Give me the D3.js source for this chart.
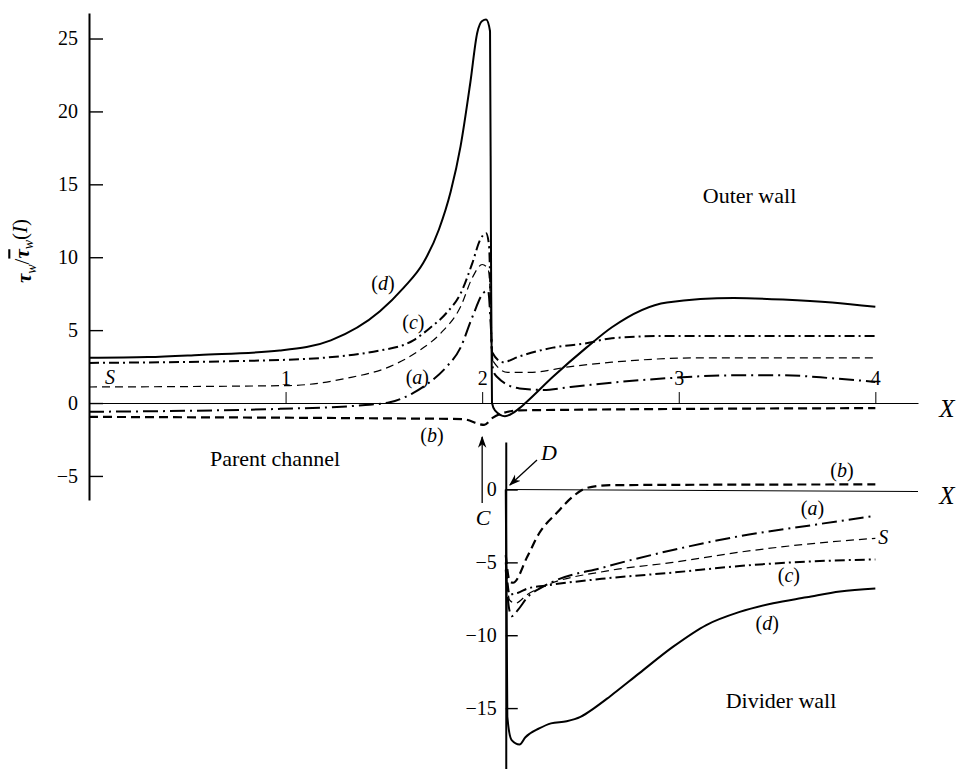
<!DOCTYPE html>
<html>
<head>
<meta charset="utf-8">
<script src="https://cdn.jsdelivr.net/npm/d3@7"></script>
<style>
  body { margin: 0; background: #fff; }
  svg { display: block; font-family: "Liberation Serif", "DejaVu Serif", serif; }
</style>
</head>
<body>
<svg id="chart" width="957" height="769"></svg>
<script>
// tick values
const xTicks = [1, 2, 3, 4];
const outerYTicks = [-5, 0, 5, 10, 15, 20, 25];
const dividerYTicks = [-15, -10, -5, 0];

// outer wall / parent channel, [X, tau_w / tau_w(I)]
const outerA = [[0, -0.6], [0.97, -0.4], [1.39, -0.15], [1.53, 0.05], [1.65, 0.7], [1.73, 1.4], [1.82, 2.5], [1.89, 3.8], [1.95, 5.9], [2.01, 7.6], [2.03, 7.7], [2.045, 5], [2.055, 2.3], [2.075, 1.8], [2.19, 1.0], [2.31, 0.9], [2.45, 1.1], [2.66, 1.4], [2.94, 1.7], [3.28, 1.9], [3.53, 1.9], [3.78, 1.7], [4.0, 1.45]];
const outerB = [[0, -0.95], [1.48, -1.05], [1.9, -1.1], [2.01, -1.5], [2.055, -1.0], [2.13, -0.6], [2.19, -0.5], [4.0, -0.35]];
const outerC = [[0, 2.75], [0.97, 2.95], [1.48, 3.6], [1.65, 4.3], [1.73, 5.1], [1.82, 6.2], [1.89, 7.5], [1.95, 9.6], [1.99, 11.2], [2.02, 11.65], [2.035, 10.8], [2.05, 3.5], [2.105, 2.8], [2.19, 3.2], [2.36, 3.8], [2.53, 4.1], [2.66, 4.45], [2.94, 4.6], [4.0, 4.6]];
const outerD = [[0, 3.1], [0.3, 3.15], [0.56, 3.3], [0.97, 3.6], [1.23, 4.3], [1.48, 6.3], [1.6, 7.9], [1.7, 9.6], [1.78, 11.9], [1.84, 14.5], [1.89, 17.6], [1.94, 22], [1.975, 25.4], [2.0, 26.2], [2.02, 26.3], [2.04, 25.5], [2.045, 10], [2.05, 0], [2.065, -0.5], [2.116, -0.9], [2.19, -0.35], [2.22, 0], [2.36, 1.8], [2.53, 3.8], [2.66, 5.2], [2.94, 6.9], [3.28, 7.2], [3.53, 7.1], [3.78, 6.9], [4.0, 6.6]];
const outerS = [[0, 1.1], [1.02, 1.2], [1.31, 1.7], [1.53, 2.5], [1.68, 3.6], [1.79, 4.8], [1.89, 6.6], [1.95, 8.6], [2.0, 9.5], [2.03, 9.2], [2.045, 6], [2.05, 3.0], [2.13, 2.1], [2.24, 2.1], [2.45, 2.5], [2.66, 2.8], [3.11, 3.1], [4.0, 3.1]];

// divider wall
const dividerA = [[2.12, -5.5], [2.135, -8.0], [2.15, -8.7], [2.18, -8.3], [2.23, -7.4], [2.32, -6.6], [2.63, -5.3], [2.97, -4.15], [3.31, -3.2], [3.65, -2.5], [4.0, -1.8]];
const dividerB = [[2.12, -4.5], [2.14, -6.3], [2.157, -6.4], [2.23, -4.6], [2.29, -3.0], [2.38, -1.6], [2.46, -0.5], [2.53, 0.1], [2.65, 0.3], [4.0, 0.35]];
const dividerC = [[2.12, -5.0], [2.14, -7.2], [2.18, -7.1], [2.23, -6.8], [2.32, -6.6], [2.63, -6.1], [2.97, -5.7], [3.31, -5.25], [3.65, -4.95], [4.0, -4.8]];
const dividerD = [[2.12, 0], [2.128, -15.6], [2.15, -17.2], [2.19, -17.5], [2.22, -17.0], [2.29, -16.4], [2.35, -16.05], [2.43, -15.9], [2.5, -15.6], [2.57, -15.0], [2.65, -14.2], [2.8, -12.6], [2.97, -10.8], [3.14, -9.3], [3.31, -8.4], [3.48, -7.8], [3.65, -7.4], [3.82, -7.0], [4.0, -6.8]];
const dividerS = [[2.12, -5.5], [2.14, -7.6], [2.17, -7.8], [2.23, -7.2], [2.32, -6.6], [2.63, -5.6], [2.97, -5.0], [3.31, -4.3], [3.65, -3.75], [4.0, -3.35]];

const dividerStart = 2.12;

// line styles per curve letter
const curveStyle = {
  a: { dash: "15,5,2,5", width: 2 },
  b: { dash: "9,5", width: 2.2 },
  c: { dash: "10,4,2,4", width: 2 },
  d: { dash: null, width: 2 },
  S: { dash: "8,5", width: 1.2 },
};

const svg = d3.select("#chart");

//Scales
const xScale = d3.scaleLinear().domain([0, 4.217]).range([89, 918]);
const yOuter = d3.scaleLinear().domain([-6.65, 26.75]).range([500, 13]);
const yDivider = d3.scaleLinear().domain([3.26, -19.18]).range([442, 769]);

//Arrow head
svg
  .append("defs")
  .append("marker")
  .attr("id", "arrow")
  .attr("viewBox", "0 0 10 10")
  .attr("refX", 9)
  .attr("refY", 5)
  .attr("markerWidth", 12)
  .attr("markerHeight", 12)
  .attr("markerUnits", "userSpaceOnUse")
  .attr("orient", "auto")
  .append("path")
  .attr("d", "M0,1.5 L10,5 L0,8.5 L3,5 Z")
  .attr("fill", "#000");

//Y axes (ticks point inward)
const styleAxis = (g, fontSize) => {
  g.attr("font-family", null).attr("font-size", fontSize);
  g.selectAll("text").attr("fill", "#000");
  g.selectAll("line").attr("stroke", "#000").attr("stroke-width", 1.4);
};

const minus = (d) => (d < 0 ? "\u2212" + Math.abs(d) : String(d));

svg
  .append("g")
  .attr("transform", `translate(${xScale(0)},0)`)
  .call(
    d3.axisLeft(yOuter).tickValues(outerYTicks).tickSizeInner(-14).tickSizeOuter(0).tickPadding(11).tickFormat(minus)
  )
  .call((g) => styleAxis(g, 20))
  .call((g) => g.select(".domain").attr("stroke", "#000").attr("stroke-width", 2));

svg
  .append("g")
  .attr("transform", `translate(${xScale(dividerStart)},0)`)
  .call(
    d3.axisLeft(yDivider).tickValues(dividerYTicks).tickSizeInner(-12).tickSizeOuter(0).tickPadding(9).tickFormat(minus)
  )
  .call((g) => styleAxis(g, 20))
  .call((g) => g.select(".domain").attr("stroke", "#000").attr("stroke-width", 2));

//X axes
svg
  .append("g")
  .attr("transform", `translate(0,${yOuter(0)})`)
  .call(
    d3.axisTop(xScale).tickValues(xTicks).tickSizeInner(11).tickSizeOuter(0).tickPadding(7).tickFormat(d3.format("d"))
  )
  .call((g) => styleAxis(g, 20))
  .call((g) => g.selectAll("line").attr("stroke-width", 1))
  .call((g) => g.select(".domain").attr("stroke", "#000").attr("stroke-width", 1.1));

svg
  .append("line")
  .attr("x1", xScale(dividerStart))
  .attr("x2", xScale(4.217))
  .attr("y1", yDivider(0))
  .attr("y2", yDivider(0) + 2)
  .attr("stroke", "#000")
  .attr("stroke-width", 1.1);

const xLabels = [
  { y: yOuter(0) + 5 },
  { y: yDivider(0) + 6 },
];
svg
  .selectAll(".x-label")
  .data(xLabels)
  .enter()
  .append("text")
  .attr("class", "x-label")
  .attr("x", 947)
  .attr("y", (d) => d.y)
  .attr("text-anchor", "middle")
  .attr("dy", "0.35em")
  .attr("font-size", 25)
  .attr("font-style", "italic")
  .text("X");

//Curves
const outerCurves = [
  { key: "a", data: outerA },
  { key: "b", data: outerB },
  { key: "c", data: outerC },
  { key: "d", data: outerD },
  { key: "S", data: outerS },
];
const dividerCurves = [
  { key: "a", data: dividerA },
  { key: "b", data: dividerB },
  { key: "c", data: dividerC },
  { key: "d", data: dividerD },
  { key: "S", data: dividerS },
];

const drawCurves = (curves, yScale, cls) => {
  const line = d3
    .line()
    .x((d) => xScale(d[0]))
    .y((d) => yScale(d[1]))
    .curve(d3.curveMonotoneX);
  svg
    .selectAll("." + cls)
    .data(curves)
    .enter()
    .append("path")
    .attr("class", cls)
    .attr("d", (d) => line(d.data))
    .attr("fill", "none")
    .attr("stroke", "#000")
    .attr("stroke-width", (d) => curveStyle[d.key].width)
    .attr("stroke-dasharray", (d) => curveStyle[d.key].dash)
    .attr("stroke-linejoin", "round");
};
drawCurves(outerCurves, yOuter, "outer-curve");
drawCurves(dividerCurves, yDivider, "divider-curve");

//Curve labels, placed in data coordinates
const curveLabels = [
  { key: "d", x: 1.495, y: 8.24, panel: "outer" },
  { key: "c", x: 1.65, y: 5.56, panel: "outer" },
  { key: "a", x: 1.67, y: 1.78, panel: "outer" },
  { key: "S", x: 0.107, y: 1.78, panel: "outer" },
  { key: "b", x: 1.745, y: -2.2, panel: "outer" },
  { key: "b", x: 3.83, y: 1.34, panel: "divider" },
  { key: "a", x: 3.68, y: -1.27, panel: "divider" },
  { key: "S", x: 4.04, y: -3.26, panel: "divider" },
  { key: "c", x: 3.56, y: -5.87, panel: "divider" },
  { key: "d", x: 3.45, y: -9.16, panel: "divider" },
];

const labels = svg
  .selectAll(".curve-label")
  .data(curveLabels)
  .enter()
  .append("text")
  .attr("class", "curve-label")
  .attr("x", (d) => xScale(d.x))
  .attr("y", (d) => (d.panel === "outer" ? yOuter(d.y) : yDivider(d.y)))
  .attr("dy", "0.35em")
  .attr("text-anchor", "middle")
  .attr("font-size", 20);

labels.each(function (d) {
  const t = d3.select(this);
  if (d.key === "S") {
    t.append("tspan").attr("font-style", "italic").text("S");
  } else {
    t.append("tspan").text("(");
    t.append("tspan").attr("font-style", "italic").text(d.key);
    t.append("tspan").text(")");
  }
});

//Region names
const regionLabels = [
  { text: "Parent channel", x: 0.946, y: -3.77, panel: "outer" },
  { text: "Outer wall", x: 3.36, y: 14.27, panel: "outer" },
  { text: "Divider wall", x: 3.52, y: -14.45, panel: "divider" },
];
svg
  .selectAll(".region-label")
  .data(regionLabels)
  .enter()
  .append("text")
  .attr("class", "region-label")
  .attr("x", (d) => xScale(d.x))
  .attr("y", (d) => (d.panel === "outer" ? yOuter(d.y) : yDivider(d.y)))
  .attr("dy", "0.35em")
  .attr("text-anchor", "middle")
  .attr("font-size", 22)
  .text((d) => d.text);

//C and D markers
svg
  .append("line")
  .attr("x1", xScale(2))
  .attr("x2", xScale(2))
  .attr("y1", yOuter(-6.86))
  .attr("y2", yOuter(-2.33))
  .attr("stroke", "#000")
  .attr("stroke-width", 1.3)
  .attr("marker-end", "url(#arrow)");

svg
  .append("text")
  .attr("x", xScale(2.005))
  .attr("y", yOuter(-7.82))
  .attr("dy", "0.35em")
  .attr("text-anchor", "middle")
  .attr("font-size", 22)
  .attr("font-style", "italic")
  .text("C");

svg
  .append("line")
  .attr("x1", xScale(2.279))
  .attr("y1", yDivider(2.02))
  .attr("x2", xScale(2.141))
  .attr("y2", yDivider(0.31))
  .attr("stroke", "#000")
  .attr("stroke-width", 1.3)
  .attr("marker-end", "url(#arrow)");

svg
  .append("text")
  .attr("x", xScale(2.34))
  .attr("y", yDivider(2.57))
  .attr("dy", "0.35em")
  .attr("text-anchor", "middle")
  .attr("font-size", 22)
  .attr("font-style", "italic")
  .text("D");

//Y axis title
const yTitle = svg
  .append("text")
  .attr("transform", "translate(24,251) rotate(-90)")
  .attr("text-anchor", "middle")
  .attr("dy", "0.35em")
  .attr("font-size", 21);
yTitle.append("tspan").attr("font-style", "italic").attr("font-weight", "bold").text("\u03c4");
yTitle.append("tspan").attr("font-style", "italic").attr("font-size", 14).attr("dy", "0.3em").text("w");
yTitle.append("tspan").attr("dy", "-0.3em").text("/");
yTitle
  .append("tspan")
  .attr("font-style", "italic")
  .attr("font-weight", "bold")
  .attr("text-decoration", "overline")
  .text("\u03c4");
yTitle.append("tspan").attr("font-style", "italic").attr("font-size", 14).attr("dy", "0.3em").text("w");
yTitle.append("tspan").attr("dy", "-0.3em").text("(");
yTitle.append("tspan").attr("font-style", "italic").text("I");
yTitle.append("tspan").text(")");
</script>
</body>
</html>
